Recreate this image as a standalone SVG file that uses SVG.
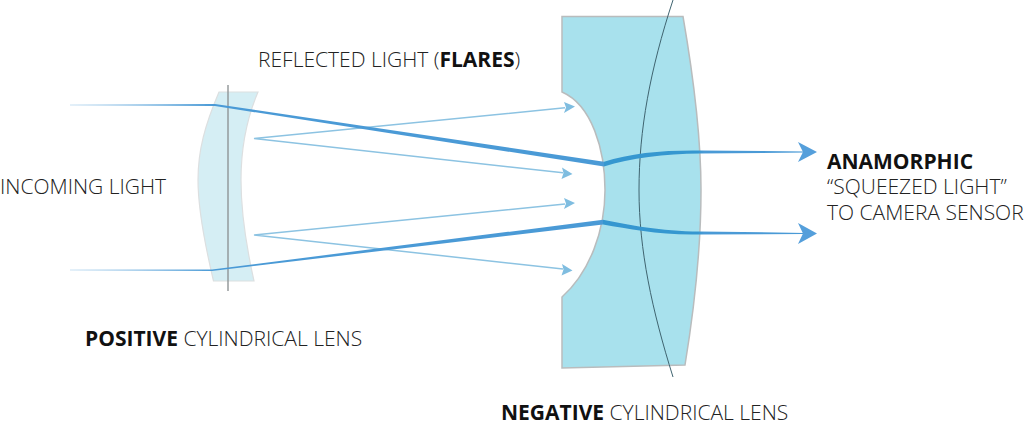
<svg xmlns="http://www.w3.org/2000/svg" width="1024" height="427" viewBox="0 0 1024 427">
<style>
text{font-family:"Open Sans","Noto Sans","Liberation Sans",sans-serif;font-size:21px;font-weight:300;fill:#222}
.b{font-weight:700;fill:#111}
.thin{fill:none;stroke:#8cc3e2;stroke-width:1.500}
.tip{fill:#7fbde0}
.thick{fill:url(#exit)}
.bigtip{fill:#559fdb}
</style>
<defs>
<linearGradient id="fade" gradientUnits="userSpaceOnUse" x1="70" x2="215" y1="0" y2="0"><stop offset="0" stop-color="#4f9ed8" stop-opacity=".3"/><stop offset="1" stop-color="#4a9ad6"/></linearGradient>
<linearGradient id="exit" gradientUnits="userSpaceOnUse" x1="698" x2="704" y1="0" y2="0"><stop offset="0" stop-color="#3597d0"/><stop offset="1" stop-color="#4a9ad6"/></linearGradient>
</defs>
<g id="positive-lens">
<path d="M219 92H258C244 125 241 155 241 180C241 210 246 245 254 281H213.500C205 245 198 210 198 180C198 150 205 125 219 92Z" fill="#d5eef4" stroke="#dcdfe0" stroke-width="1.200"/>
<path d="M228 85V291" stroke="#8f9496" stroke-width="1.400"/>
<text x="85" y="345.500"><tspan class="b">POSITIVE</tspan> CYLINDRICAL LENS</text>
</g>
<g id="negative-lens">
<path d="M562 16.500H683C694 80 701 140 701 190C701 250 694 310 685 365L562 368V297C590 272 605 230 605 190C605 150 592 105 562 92Z" fill="#a8e1ed" stroke="#b9bcbd" stroke-width="1.500"/>
<path d="M673 0C650 70 639 130 639 190C639 250 652 310 673 377" fill="none" stroke="#3f6470" stroke-width="1"/>
<text x="501" y="420"><tspan class="b">NEGATIVE</tspan> CYLINDRICAL LENS</text>
</g>
<g id="labels">
<text id="reflected" x="258" y="67">REFLECTED LIGHT (<tspan class="b">FLARES</tspan>)</text>
<text id="incoming" x="0" y="193.500">INCOMING LIGHT</text>
<g id="anamorphic">
<text x="827" y="169" class="b">ANAMORPHIC</text>
<text x="827" y="194">“SQUEEZED LIGHT”</text>
<text x="827" y="219.500">TO CAMERA SENSOR</text>
</g>
</g>
<g id="connectors">
<path class="thin" d="M565 107.800L254 138.500L563 172.800"/>
<path class="tip" d="M575 106.500L564 113L566 107.500L564 102Z"/>
<path class="tip" d="M572.500 174L561.500 179L563.500 173L562 167.500Z"/>
<path class="thin" d="M565 204L254 235L563 269"/>
<path class="tip" d="M575 203L564 209L566 203.500L564 198Z"/>
<path class="tip" d="M572.500 270.500L561.500 275.500L563.500 269.500L562 264Z"/>
<path fill="url(#fade)" d="M70 104.500L215 104L604 161.800V166.500L215 106L70 105.500Z"/>
<path fill="url(#fade)" d="M70 269.500L212 269.500L603 219.800V224.500L212 271L70 270.500Z"/>
<path class="thick" d="M604 161.800C630 153 665 150 700 150.500L805 151.400V152.600L700 153.500C665 154 630 158 604 166.500Z"/>
<path class="thick" d="M603 219.800C630 225 660 231.500 700 231.500L805 232.900V234.100L700 234.500C660 235.500 630 229 603 224.500Z"/>
<path class="bigtip" d="M817 152L798 142L803 152L798 162Z"/>
<path class="bigtip" d="M817 233.500L798 223L803 233.500L798 244Z"/>
</g>
</svg>
